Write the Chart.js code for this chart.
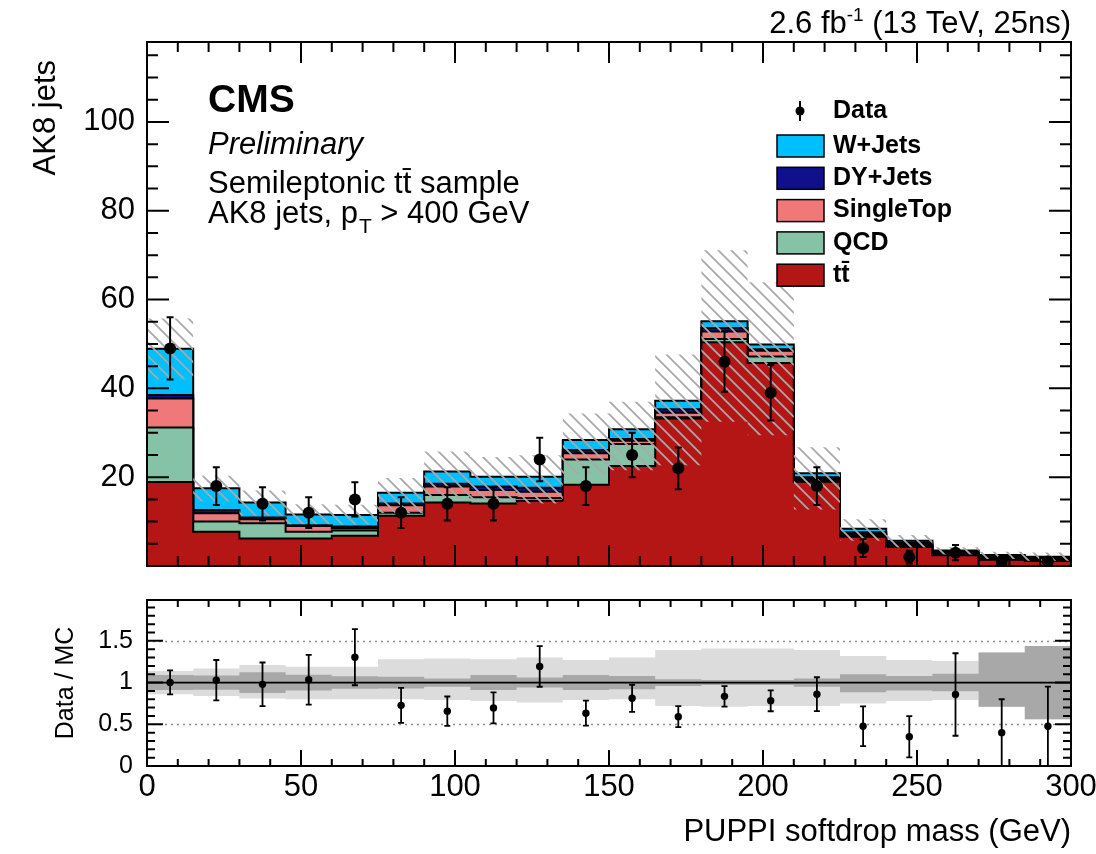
<!DOCTYPE html>
<html>
<head>
<meta charset="utf-8">
<title>PUPPI softdrop mass</title>
<script src="https://cdn.jsdelivr.net/npm/chart.js@4.4.1/dist/chart.umd.min.js"></script>
<style>
  html, body { margin: 0; padding: 0; background: #fff; }
  #figure { position: relative; width: 1096px; height: 854px; overflow: hidden; background: #fff; }
  #mainCanvas { position: absolute; left: 0; top: 0; }
  #ratioCanvas { position: absolute; left: 0; top: 580px; }
</style>
</head>
<body>
<div id="figure">
  <canvas id="mainCanvas" width="1096" height="580"></canvas>
  <canvas id="ratioCanvas" width="1096" height="274"></canvas>
</div>
<script>
const FONT = '"Liberation Sans", Arial, Helvetica, sans-serif';
Chart.defaults.font.family = FONT;
Chart.defaults.color = '#000';

// Bin edges of the PUPPI softdrop mass histogram (GeV)
const massBins = [0, 15, 30, 45, 60, 75, 90, 105, 120, 135, 150, 165, 180, 195, 210, 225, 240, 255, 270, 285, 300];

// Expected AK8 jets per bin, by process
const ttbarYield     = [18.9, 7.7, 6.2, 6.2, 6.8, 11.3, 14.3, 14.1, 14.7, 18.3, 22.5, 33.2, 50.4, 45.7, 19.0, 6.6, 4.3, 2.4, 1.4, 1.1];
const qcdYield       = [12.3, 2.3, 3.4, 1.5, 1.2, 0.7, 1.7, 1.4, 0.6, 5.7, 5.0, 0.3, 0.7, 1.5, 0.3, 0.4, 0.3, 0.3, 0.4, 0.5];
const singleTopYield = [6.5, 1.9, 0.9, 1.3, 0.5, 1.7, 1.9, 1.6, 1.4, 1.4, 0.7, 1.0, 1.7, 1.3, 0.3, 0.4, 0.3, 0.3, 0.2, 0.2];
const dyJetsYield    = [0.8, 0.7, 0.4, 0.2, 0.4, 0.4, 0.6, 0.8, 0.9, 0.7, 0.4, 0.8, 0.8, 0.3, 0.4, 0.2, 0.4, 0.2, 0.2, 0.1];
const wJetsYield     = [10.4, 4.9, 3.4, 2.4, 2.6, 2.4, 2.8, 2.2, 2.5, 2.3, 2.2, 1.9, 1.5, 1.1, 0.9, 0.8, 0.4, 0.3, 0.3, 0.2];

// Observed jets per bin and their statistical uncertainty
const dataCounts = [49, 18, 14, 12, 15, 12, 14, 14, 24, 18, 25, 22, 46, 39, 18, 4, 2, 3, 1, 1];
const dataErrors = [7.0, 4.24, 3.74, 3.46, 3.87, 3.46, 3.74, 3.74, 4.9, 4.24, 5.0, 4.69, 6.78, 6.24, 4.24, 2.0, 1.41, 1.73, 1.0, 1.0];

// Fractional total uncertainty on the prediction (upward / downward shift)
const mcSystUp   = [0.14, 0.16, 0.19, 0.20, 0.20, 0.20, 0.21, 0.22, 0.24, 0.21, 0.20, 0.28, 0.29, 0.28, 0.28, 0.25, 0.22, 0.21, 0.29, 0.44];
const mcSystDown = [0.14, 0.17, 0.21, 0.19, 0.19, 0.28, 0.29, 0.28, 0.30, 0.27, 0.30, 0.39, 0.41, 0.41, 0.39, 0.32, 0.27, 0.26, 0.36, 0.44];

// Fractional statistical uncertainty of the simulation
const mcStatUp   = [0.09, 0.085, 0.125, 0.095, 0.075, 0.07, 0.05, 0.09, 0.06, 0.09, 0.08, 0.04, 0.03, 0.03, 0.05, 0.10, 0.08, 0.105, 0.36, 0.44];
const mcStatDown = [0.09, 0.085, 0.125, 0.095, 0.075, 0.07, 0.05, 0.09, 0.06, 0.09, 0.08, 0.04, 0.03, 0.03, 0.05, 0.115, 0.095, 0.105, 0.29, 0.44];

// Processes, stacked from the bottom up
const processNames  = ['t\u0074\u0304', 'QCD', 'SingleTop', 'DY+Jets', 'W+Jets'];
const processColors = ['#B41515', '#86C3A6', '#F07878', '#10108C', '#00BFFF'];
const processYields = [ttbarYield, qcdYield, singleTopYield, dyJetsYield, wJetsYield];

const nBins = dataCounts.length;
const binCenters = dataCounts.map((_, i) => (massBins[i] + massBins[i + 1]) / 2);

// running sums of the stack
const cumulative = [];
let running = new Array(nBins).fill(0);
processYields.forEach(layer => {
  running = running.map((v, i) => v + layer[i]);
  cumulative.push(running.slice());
});
const mcTotal = cumulative[cumulative.length - 1];

const hatchHigh = mcTotal.map((v, i) => v * (1 + mcSystUp[i]));
const hatchLow  = mcTotal.map((v, i) => v * (1 - mcSystDown[i]));

const ratioValues = dataCounts.map((d, i) => d / mcTotal[i]);
const ratioErrors = dataErrors.map((e, i) => e / mcTotal[i]);
const bandLightHigh = mcSystDown.map(v => 1 + v);
const bandLightLow  = mcSystUp.map(v => 1 - v);
const bandDarkHigh  = mcStatUp.map(v => 1 + v);
const bandDarkLow   = mcStatDown.map(v => 1 - v);

// histogram outline: each bin value is held from its low edge to the next edge
function stepPoints(vals) {
  const pts = vals.map((v, i) => ({ x: massBins[i], y: v }));
  pts.push({ x: massBins[vals.length], y: vals[vals.length - 1] });
  return pts;
}
function pointSeries(vals) {
  return vals.map((v, i) => ({ x: binCenters[i], y: v }));
}

function hatchPattern() {
  const s = 13;
  const c = document.createElement('canvas');
  c.width = s; c.height = s;
  const g = c.getContext('2d');
  g.strokeStyle = '#a9a9a9';
  g.lineWidth = 1.8;
  g.beginPath();
  g.moveTo(-3, -3); g.lineTo(s + 3, s + 3);
  g.moveTo(-3, s - 3); g.lineTo(3, s + 3);
  g.moveTo(s - 3, -3); g.lineTo(s + 3, 3);
  g.stroke();
  return g.createPattern(c, 'repeat');
}

const NONE = 'rgba(0,0,0,0)';

function makeErrorBars(values, errors, width, cap) {
  return {
    id: 'errorBars',
    afterDatasetsDraw(chart) {
      const { ctx, chartArea: a } = chart;
      const xs = chart.scales.x, ys = chart.scales.y;
      ctx.save();
      ctx.beginPath();
      ctx.rect(a.left, a.top, a.width, a.height);
      ctx.clip();
      ctx.strokeStyle = '#000';
      ctx.lineWidth = width;
      values.forEach((v, i) => {
        const px = xs.getPixelForValue(binCenters[i]);
        const yT = ys.getPixelForValue(v + errors[i]);
        const yB = ys.getPixelForValue(v - errors[i]);
        ctx.beginPath();
        ctx.moveTo(px, yT); ctx.lineTo(px, yB);
        ctx.moveTo(px - cap, yT); ctx.lineTo(px + cap, yT);
        ctx.moveTo(px - cap, yB); ctx.lineTo(px + cap, yB);
        ctx.stroke();
      });
      ctx.restore();
    }
  };
}

// frame with inward ticks on all four sides
function drawFrame(chart, t) {
  const { ctx, chartArea: a } = chart;
  const xs = chart.scales.x, ys = chart.scales.y;
  ctx.save();
  ctx.strokeStyle = '#000';
  ctx.lineWidth = 2;
  ctx.beginPath();
  for (let k = 0; k * t.xMinor <= t.xMax + 1e-9; k++) {
    const px = xs.getPixelForValue(k * t.xMinor);
    const len = (k % t.xEvery === 0) ? t.xMajorLen : t.xMinorLen;
    ctx.moveTo(px, a.bottom); ctx.lineTo(px, a.bottom - len);
    ctx.moveTo(px, a.top); ctx.lineTo(px, a.top + len);
  }
  for (let k = 0; k * t.yMinor <= t.yMax + 1e-9; k++) {
    const py = ys.getPixelForValue(k * t.yMinor);
    const len = (k % t.yEvery === 0) ? t.yMajorLen : t.yMinorLen;
    ctx.moveTo(a.left, py); ctx.lineTo(a.left + len, py);
    ctx.moveTo(a.right, py); ctx.lineTo(a.right - len, py);
  }
  ctx.stroke();
  ctx.strokeRect(a.left, a.top, a.width, a.height);
  ctx.restore();
}

const mainOverlay = {
  id: 'mainOverlay',
  afterDraw(chart) {
    drawFrame(chart, { xMinor: 10, xEvery: 5, xMax: 300, xMajorLen: 21, xMinorLen: 10,
                       yMinor: 5, yEvery: 4, yMax: 118, yMajorLen: 22, yMinorLen: 11 });
    const ctx = chart.ctx;
    ctx.save();
    ctx.fillStyle = '#000';
    ctx.textBaseline = 'alphabetic';
    ctx.textAlign = 'left';

    ctx.font = `bold 39px ${FONT}`;
    ctx.fillText('CMS', 208, 112);
    ctx.font = `italic 31px ${FONT}`;
    ctx.fillText('Preliminary', 208, 154);
    ctx.font = `31px ${FONT}`;
    ctx.fillText('Semileptonic t\u0074\u0304 sample', 208, 193);
    let x = 208;
    ctx.fillText('AK8 jets, p', x, 223);
    x += ctx.measureText('AK8 jets, p').width;
    ctx.font = `21px ${FONT}`;
    ctx.fillText('T', x + 1, 233);
    x += ctx.measureText('T').width + 1;
    ctx.font = `31px ${FONT}`;
    ctx.fillText(' > 400 GeV', x, 223);

    // luminosity label, right aligned with the frame
    const a = chart.chartArea;
    const p1 = '2.6 fb', p2 = '-1', p3 = ' (13 TeV, 25ns)';
    ctx.font = `31px ${FONT}`;
    const w1 = ctx.measureText(p1).width, w3 = ctx.measureText(p3).width;
    ctx.font = `19px ${FONT}`;
    const w2 = ctx.measureText(p2).width;
    let lx = a.right - (w1 + w2 + w3);
    ctx.font = `31px ${FONT}`;
    ctx.fillText(p1, lx, 33);
    ctx.font = `19px ${FONT}`;
    ctx.fillText(p2, lx + w1, 21);
    ctx.font = `31px ${FONT}`;
    ctx.fillText(p3, lx + w1 + w2, 33);

    // y axis title
    ctx.save();
    ctx.translate(46, 60);
    ctx.rotate(-Math.PI / 2);
    ctx.textAlign = 'right';
    ctx.textBaseline = 'middle';
    ctx.font = `31px ${FONT}`;
    ctx.fillText('AK8 jets', 0, 0);
    ctx.restore();

    // legend
    ctx.font = `bold 25px ${FONT}`;
    ctx.textBaseline = 'middle';
    ctx.strokeStyle = '#000';
    ctx.lineWidth = 2;
    ctx.beginPath();
    ctx.moveTo(800, 101); ctx.lineTo(800, 121);
    ctx.stroke();
    ctx.beginPath();
    ctx.arc(800, 111, 4.5, 0, Math.PI * 2);
    ctx.fill();
    ctx.fillText('Data', 833, 111);
    const rows = [4, 3, 2, 1, 0];
    rows.forEach((p, r) => {
      const cy = 146 + r * 32.3;
      ctx.fillStyle = processColors[p];
      ctx.fillRect(777, cy - 11, 47, 22);
      ctx.lineWidth = 1.5;
      ctx.strokeRect(777, cy - 11, 47, 22);
      ctx.fillStyle = '#000';
      ctx.fillText(processNames[p], 833, cy);
    });
    ctx.restore();
  }
};

const hatch = hatchPattern();

const stackDatasets = processNames.map((name, p) => ({
  label: name,
  data: stepPoints(cumulative[p]),
  stepped: true,
  fill: 'origin',
  backgroundColor: processColors[p],
  borderColor: '#000',
  borderWidth: 2,
  pointRadius: 0
})).reverse().reverse();

const mainDatasets = [
  {
    label: 'Data',
    data: pointSeries(dataCounts),
    showLine: false,
    pointRadius: 6,
    pointBackgroundColor: '#000',
    pointBorderWidth: 0,
    borderColor: '#000'
  },
  {
    label: 'MC uncertainty',
    data: stepPoints(hatchHigh),
    stepped: true,
    fill: '+1',
    backgroundColor: hatch,
    borderColor: NONE,
    borderWidth: 1,
    pointRadius: 0
  },
  {
    label: 'MC uncertainty low',
    data: stepPoints(hatchLow),
    stepped: true,
    fill: false,
    borderColor: NONE,
    borderWidth: 1,
    pointRadius: 0
  },
  ...stackDatasets
];

new Chart(document.getElementById('mainCanvas'), {
  type: 'line',
  data: { datasets: mainDatasets },
  options: {
    responsive: false,
    animation: false,
    events: [],
    layout: { padding: { top: 42, right: 25, bottom: 14, left: 0 } },
    plugins: { legend: { display: false }, tooltip: { enabled: false } },
    scales: {
      x: {
        type: 'linear', min: 0, max: 300, display: false
      },
      y: {
        type: 'linear', min: 0, max: 118,
        grid: { display: false, drawTicks: false },
        border: { display: false },
        ticks: {
          stepSize: 20, includeBounds: false, padding: 12,
          font: { size: 31 }, color: '#000',
          callback: v => (v === 0 ? '' : String(v))
        },
        afterFit(s) { s.width = 147; s.paddingTop = 0; s.paddingBottom = 0; }
      }
    }
  },
  plugins: [makeErrorBars(dataCounts, dataErrors, 2, 3.5), mainOverlay]
});

const ratioOverlay = {
  id: 'ratioOverlay',
  beforeDatasetsDraw(chart) {
    const { ctx, chartArea: a } = chart;
    const ys = chart.scales.y;
    ctx.save();
    ctx.strokeStyle = '#8c8c8c';
    ctx.lineWidth = 1.3;
    ctx.setLineDash([2, 4]);
    [0.5, 1.5].forEach(v => {
      const py = Math.round(ys.getPixelForValue(v)) + 0.5;
      ctx.beginPath(); ctx.moveTo(a.left, py); ctx.lineTo(a.right, py); ctx.stroke();
    });
    ctx.restore();
  },
  afterDraw(chart) {
    drawFrame(chart, { xMinor: 10, xEvery: 5, xMax: 300, xMajorLen: 16, xMinorLen: 7,
                       yMinor: 0.1, yEvery: 5, yMax: 1.95, yMajorLen: 16, yMinorLen: 8 });
  }
};

new Chart(document.getElementById('ratioCanvas'), {
  type: 'line',
  data: {
    datasets: [
      {
        label: 'Data / MC',
        data: pointSeries(ratioValues),
        showLine: false,
        pointRadius: 3.7,
        pointBackgroundColor: '#000',
        pointBorderWidth: 0,
        borderColor: '#000'
      },
      {
        label: 'unity',
        data: [{ x: 0, y: 1 }, { x: 300, y: 1 }],
        borderColor: '#000',
        borderWidth: 1.6,
        pointRadius: 0,
        fill: false
      },
      {
        label: 'MC stat',
        data: stepPoints(bandDarkHigh),
        stepped: true, fill: '+1',
        backgroundColor: '#a8a8a8', borderColor: NONE, borderWidth: 1, pointRadius: 0
      },
      {
        label: 'MC stat low',
        data: stepPoints(bandDarkLow),
        stepped: true, fill: false,
        borderColor: NONE, borderWidth: 1, pointRadius: 0
      },
      {
        label: 'MC total',
        data: stepPoints(bandLightHigh),
        stepped: true, fill: '+1',
        backgroundColor: '#dcdcdc', borderColor: NONE, borderWidth: 1, pointRadius: 0
      },
      {
        label: 'MC total low',
        data: stepPoints(bandLightLow),
        stepped: true, fill: false,
        borderColor: NONE, borderWidth: 1, pointRadius: 0
      }
    ]
  },
  options: {
    responsive: false,
    animation: false,
    events: [],
    layout: { padding: { top: 20, right: 25, bottom: 0, left: 0 } },
    plugins: { legend: { display: false }, tooltip: { enabled: false } },
    scales: {
      x: {
        type: 'linear', min: 0, max: 300,
        grid: { display: false, drawTicks: false },
        border: { display: false },
        ticks: { stepSize: 50, padding: 3, font: { size: 31 }, color: '#000', maxRotation: 0,
                 callback: v => String(v) },
        title: { display: true, text: 'PUPPI softdrop mass (GeV)', align: 'end',
                 font: { size: 31 }, color: '#000', padding: { top: 0, bottom: 3 } },
        afterFit(s) { s.height = 88; s.paddingLeft = 0; s.paddingRight = 0; }
      },
      y: {
        type: 'linear', min: 0, max: 1.99,
        grid: { display: false, drawTicks: false },
        border: { display: false },
        ticks: { stepSize: 0.5, includeBounds: false, padding: 14, font: { size: 25 }, color: '#000',
                 callback: v => String(v) },
        title: { display: true, text: 'Data / MC', align: 'center',
                 font: { size: 25 }, color: '#000', padding: { top: 51, bottom: 0 } },
        afterFit(s) { s.width = 147; s.paddingTop = 0; s.paddingBottom = 0; }
      }
    }
  },
  plugins: [makeErrorBars(ratioValues, ratioErrors, 1.8, 3), ratioOverlay]
});
</script>
</body>
</html>
